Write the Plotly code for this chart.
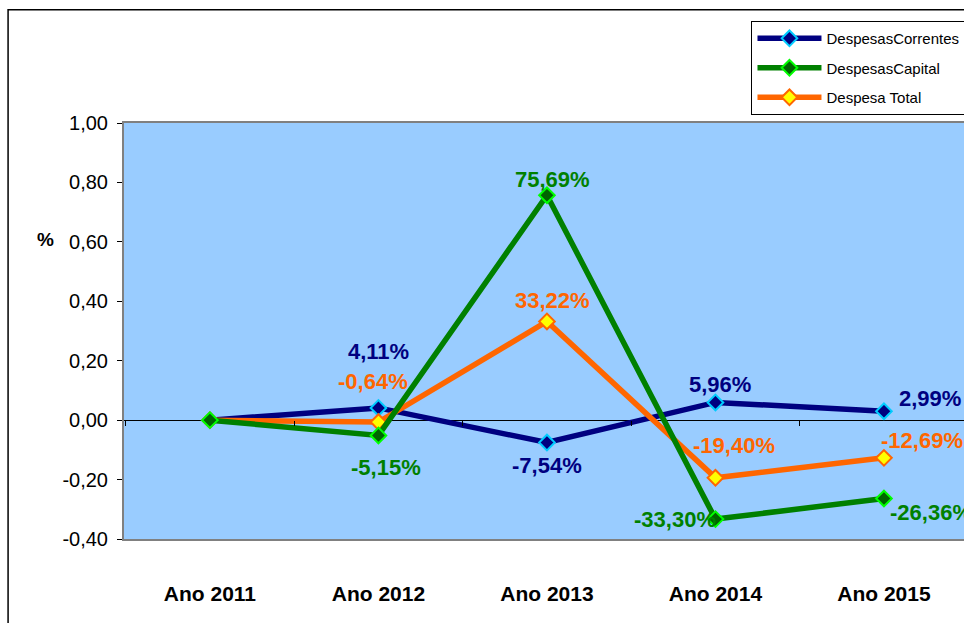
import plotly.graph_objects as go

categories = ["Ano 2011", "Ano 2012", "Ano 2013", "Ano 2014", "Ano 2015"]
correntes = [0.0, 0.0411, -0.0754, 0.0596, 0.0299]
capital = [0.0, -0.0515, 0.7569, -0.3330, -0.2636]
total = [0.0, -0.0064, 0.3322, -0.1940, -0.1269]
y_ticks = [-0.4, -0.2, 0.0, 0.2, 0.4, 0.6, 0.8, 1.0]

FONT = "Liberation Sans, Arial, sans-serif"

series = [
    dict(name="DespesasCorrentes", values=correntes, line="#000080", fill="#000080",
         edge="#00CCFF", rank=1,
         offsets=[None, (0, 56), (0, -23), (5, 18), (46, 13)]),
    dict(name="DespesaTotal", values=total, line="#FF6600", fill="#FFFF00",
         edge="#FF6600", rank=3, label="Despesa Total",
         offsets=[None, (-5, 41), (6, 21), (19, 32), (38, 17)]),
    dict(name="DespesasCapital", values=capital, line="#008000", fill="#006400",
         edge="#00FF00", rank=2,
         offsets=[None, (8, -32), (6, 16), (-40, 0), (47, -14)]),
]

fig = go.Figure()

annotations = []
for s in series:
    fig.add_trace(go.Scatter(
        x=categories, y=s["values"], mode="lines+markers",
        name=s.get("label", s["name"]),
        legendrank=s["rank"], legendgroup=s["name"],
        line=dict(color=s["line"], width=5.5),
        marker=dict(symbol="diamond", size=12, color=s["fill"],
                    line=dict(color=s["edge"], width=2)),
    ))
    for cat, v, off in zip(categories, s["values"], s["offsets"]):
        if off is None:
            continue
        txt = f"{v*100:.2f}%".replace(".", ",")
        annotations.append(dict(
            x=cat, y=v, xref="x", yref="y", text=txt, showarrow=False,
            xshift=off[0], yshift=off[1],
            font=dict(family=FONT, size=22, color=s["line"], weight="bold"),
        ))

# invisible trace on the overlay axis that carries boundary ticks on the zero line
fig.add_trace(go.Scatter(x=categories, y=[None] * len(categories), xaxis="x2",
                         showlegend=False, hoverinfo="skip"))

annotations.append(dict(
    x=-0.093, y=0.719, xref="paper", yref="paper", text="<b>%</b>", showarrow=False,
    xanchor="center", yanchor="middle",
    font=dict(family=FONT, size=19, color="black"),
))

y_ticktext = [f"{v:.2f}".replace(".", ",") for v in y_ticks]

fig.update_layout(
    width=964, height=623,
    margin=dict(l=124, r=0, t=123, b=84, autoexpand=False),
    paper_bgcolor="white", plot_bgcolor="#99CCFF",
    separators=",.",
    font=dict(family=FONT, color="black"),
    showlegend=True,
    legend=dict(
        x=0.747, y=1.245, xanchor="left", yanchor="top",
        bgcolor="white", bordercolor="black", borderwidth=1,
        font=dict(family=FONT, size=15, color="black"),
        tracegroupgap=7, itemwidth=64,
    ),
    xaxis=dict(
        type="category", range=[-0.51, 4.475],
        showgrid=False, zeroline=False,
        showline=True, linecolor="#808080", linewidth=2, mirror=True,
        ticks="", ticklabelstandoff=35,
        tickfont=dict(family=FONT, size=21, color="black", weight="bold"),
    ),
    xaxis2=dict(
        type="category", range=[-0.51, 4.475], overlaying="x",
        anchor="free", position=0.4 / 1.4, side="bottom",
        showgrid=False, zeroline=False, showline=False,
        ticks="outside", tickson="boundaries", ticklen=5, tickcolor="black",
        showticklabels=False,
    ),
    yaxis=dict(
        range=[-0.4, 1.0], tickvals=y_ticks, ticktext=y_ticktext,
        showgrid=False,
        zeroline=True, zerolinecolor="black", zerolinewidth=1,
        showline=True, linecolor="#808080", linewidth=2, mirror=True,
        ticks="outside", ticklen=5, tickcolor="black", ticklabelstandoff=5,
        tickfont=dict(family=FONT, size=20, color="black"),
    ),
    annotations=annotations,
    shapes=[dict(type="rect", xref="paper", yref="paper",
                 x0=-0.138, x1=1.05, y0=-0.5, y1=1.272,
                 line=dict(color="black", width=1.5), layer="below")],
)

fig.write_html("out.html", config={"displayModeBar": False},
               post_script="document.body.style.margin='0';")
